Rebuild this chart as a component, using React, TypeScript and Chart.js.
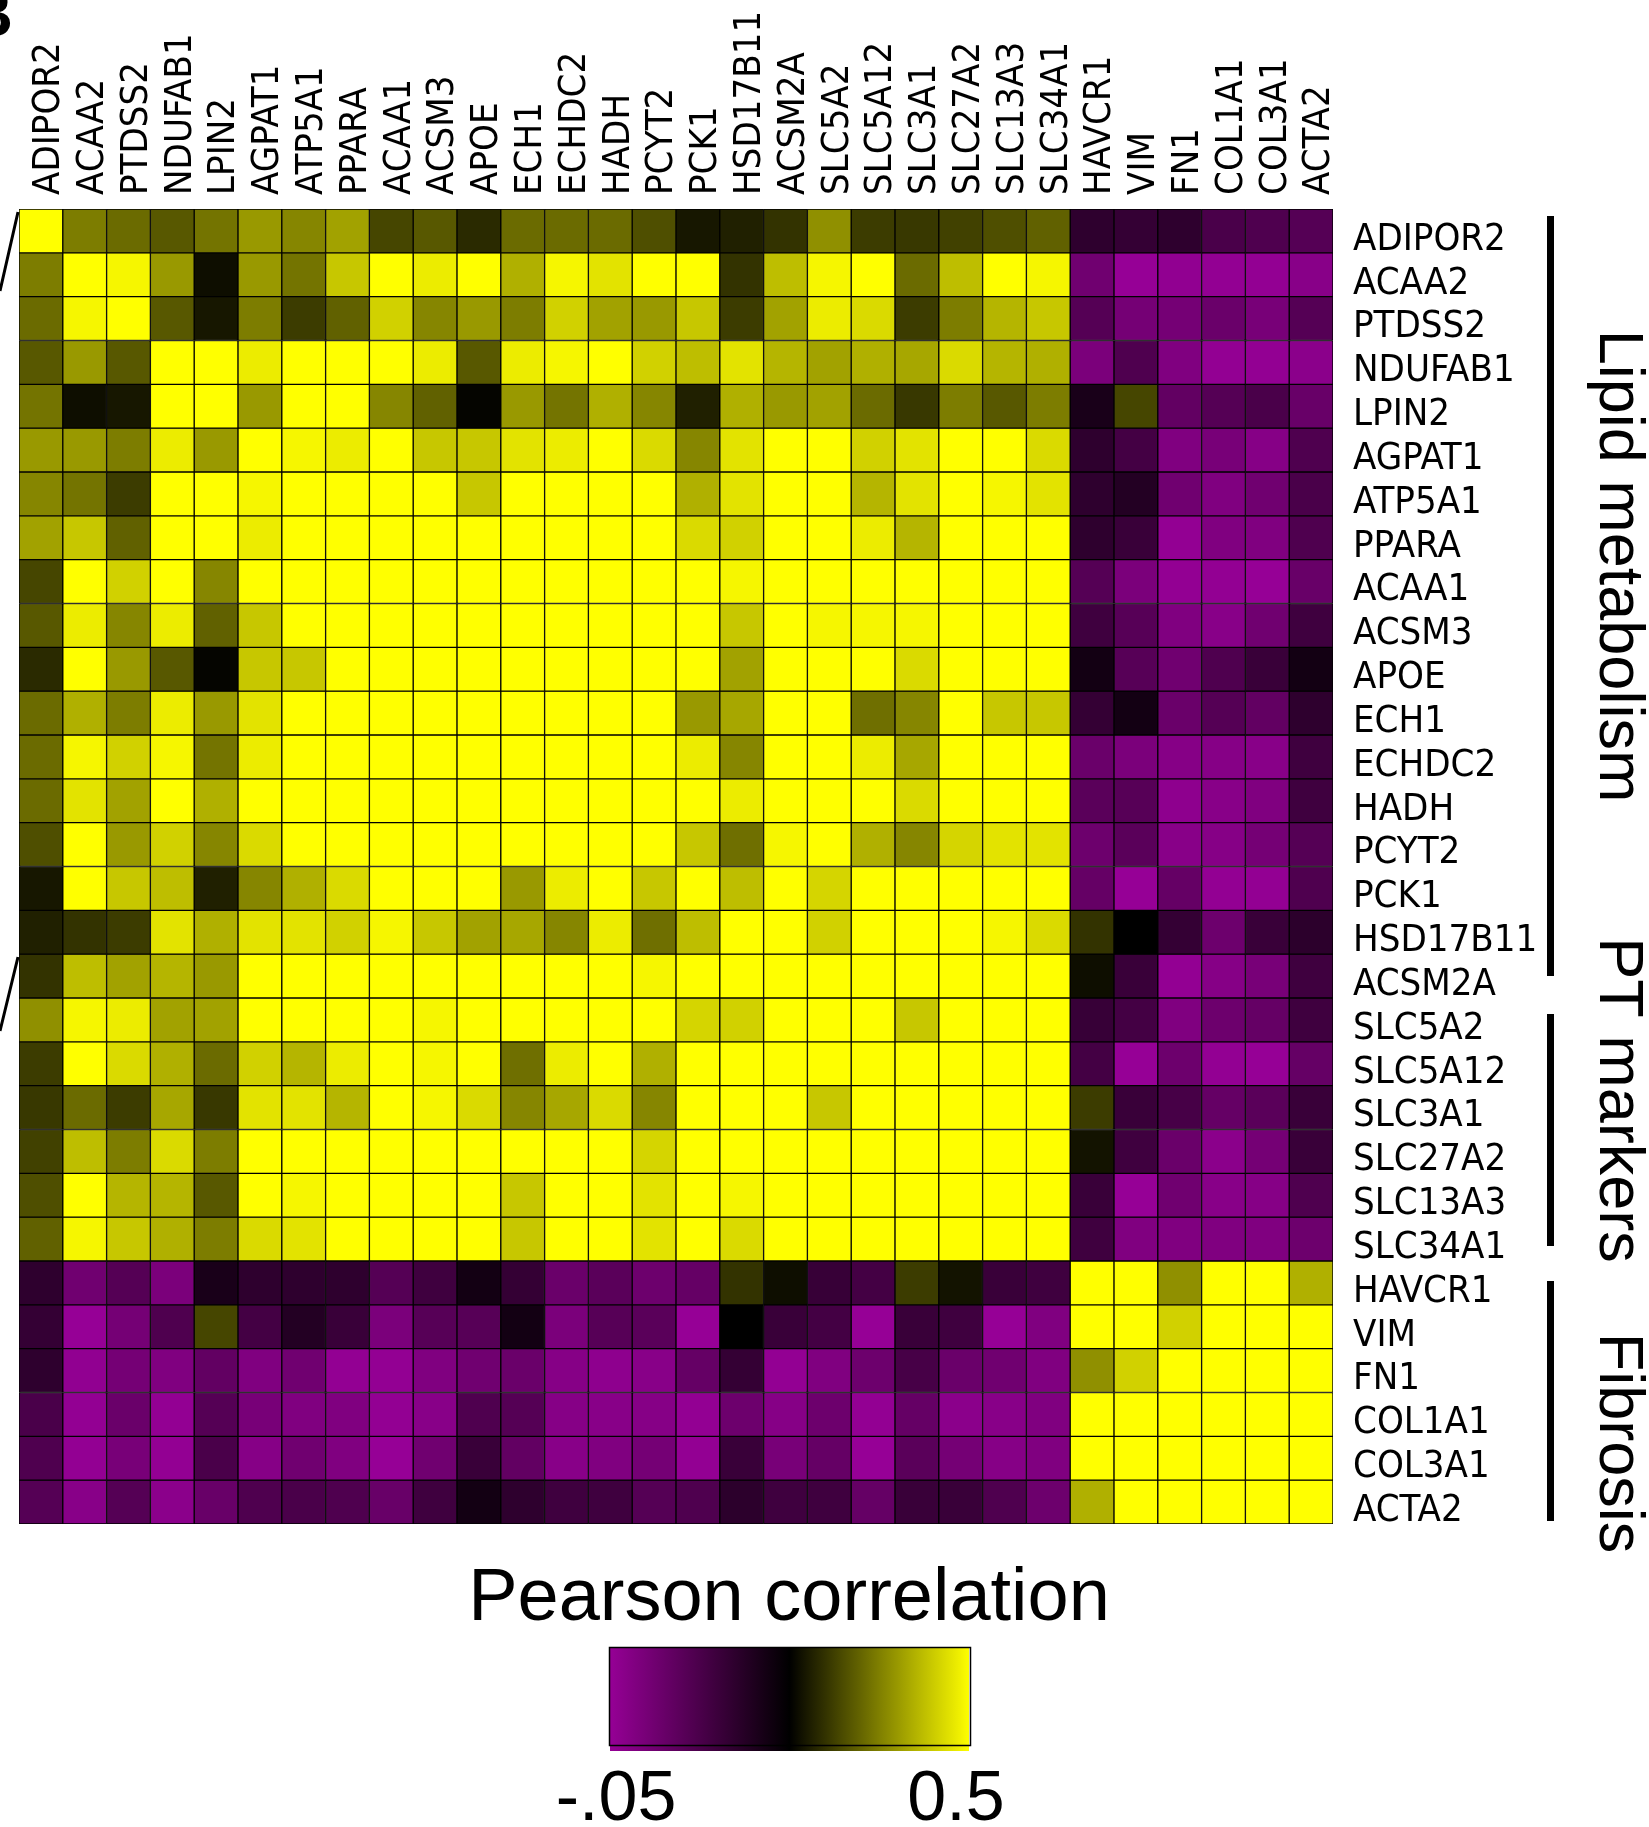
import React, { useEffect, useRef } from "react";
import { Chart, registerables } from "chart.js";

Chart.register(...registerables);

// ---------- data ----------
const genes = [
  "ADIPOR2", "ACAA2", "PTDSS2", "NDUFAB1", "LPIN2", "AGPAT1", "ATP5A1", "PPARA",
  "ACAA1", "ACSM3", "APOE", "ECH1", "ECHDC2", "HADH", "PCYT2", "PCK1", "HSD17B11",
  "ACSM2A", "SLC5A2", "SLC5A12", "SLC3A1", "SLC27A2", "SLC13A3", "SLC34A1",
  "HAVCR1", "VIM", "FN1", "COL1A1", "COL3A1", "ACTA2",
];

// Upper triangle of the (symmetric) Pearson correlation matrix, row i holds columns i..29
const corrUpper: number[][] = [
  [1.0, 0.36, 0.34, 0.32, 0.35, 0.39, 0.37, 0.4, 0.3, 0.32, 0.27, 0.34, 0.34, 0.34, 0.31, 0.25, 0.26, 0.28, 0.38, 0.29, 0.285, 0.295, 0.31, 0.33, 0.14, 0.13, 0.14, 0.09, 0.08, 0.07],
  [1.0, 0.49, 0.39, 0.24, 0.39, 0.35, 0.44, 0.5, 0.48, 0.5, 0.415, 0.49, 0.47, 0.5, 0.5, 0.28, 0.43, 0.49, 0.5, 0.34, 0.43, 0.5, 0.49, 0.02, -0.05, -0.04, -0.045, -0.045, -0.025],
  [1.0, 0.32, 0.25, 0.36, 0.29, 0.33, 0.45, 0.37, 0.39, 0.36, 0.45, 0.4, 0.39, 0.44, 0.29, 0.4, 0.48, 0.46, 0.29, 0.36, 0.42, 0.44, 0.07, 0.01, 0.01, 0.03, 0.005, 0.07],
  [1.0, 0.5, 0.48, 0.5, 0.5, 0.5, 0.48, 0.32, 0.48, 0.49, 0.5, 0.45, 0.43, 0.47, 0.42, 0.4, 0.415, 0.405, 0.46, 0.42, 0.415, 0.0, 0.08, -0.01, -0.045, -0.045, -0.03],
  [1.0, 0.39, 0.5, 0.5, 0.37, 0.33, 0.23, 0.39, 0.35, 0.415, 0.37, 0.26, 0.415, 0.39, 0.4, 0.34, 0.285, 0.36, 0.32, 0.36, 0.18, 0.3, 0.045, 0.07, 0.09, 0.035],
  [1.0, 0.49, 0.48, 0.5, 0.44, 0.44, 0.47, 0.48, 0.5, 0.46, 0.37, 0.47, 0.5, 0.5, 0.45, 0.47, 0.5, 0.5, 0.46, 0.14, 0.1, -0.01, 0.005, -0.02, 0.08],
  [1.0, 0.5, 0.5, 0.5, 0.44, 0.5, 0.5, 0.5, 0.5, 0.415, 0.47, 0.5, 0.5, 0.42, 0.47, 0.5, 0.49, 0.47, 0.14, 0.16, 0.02, -0.01, 0.02, 0.09],
  [1.0, 0.5, 0.5, 0.5, 0.5, 0.5, 0.5, 0.5, 0.46, 0.45, 0.5, 0.5, 0.48, 0.42, 0.5, 0.5, 0.5, 0.14, 0.12, -0.045, -0.01, -0.01, 0.08],
  [1.0, 0.5, 0.5, 0.5, 0.5, 0.5, 0.5, 0.5, 0.49, 0.5, 0.5, 0.5, 0.5, 0.5, 0.5, 0.5, 0.07, 0.0, -0.045, -0.045, -0.05, 0.035],
  [1.0, 0.5, 0.5, 0.5, 0.5, 0.5, 0.5, 0.44, 0.5, 0.49, 0.49, 0.49, 0.5, 0.5, 0.5, 0.11, 0.065, -0.01, -0.025, 0.02, 0.11],
  [1.0, 0.5, 0.5, 0.5, 0.5, 0.5, 0.4, 0.5, 0.5, 0.5, 0.46, 0.5, 0.5, 0.5, 0.19, 0.065, 0.02, 0.08, 0.12, 0.19],
  [1.0, 0.5, 0.5, 0.5, 0.39, 0.405, 0.5, 0.5, 0.345, 0.37, 0.5, 0.44, 0.44, 0.13, 0.19, 0.03, 0.07, 0.045, 0.14],
  [1.0, 0.5, 0.5, 0.48, 0.37, 0.5, 0.5, 0.48, 0.405, 0.5, 0.5, 0.5, 0.03, 0.0, -0.02, -0.02, -0.025, 0.11],
  [1.0, 0.5, 0.5, 0.48, 0.5, 0.5, 0.5, 0.46, 0.5, 0.5, 0.5, 0.06, 0.065, -0.035, -0.025, -0.01, 0.11],
  [1.0, 0.44, 0.345, 0.49, 0.5, 0.415, 0.37, 0.455, 0.47, 0.47, 0.025, 0.06, -0.025, -0.02, 0.01, 0.07],
  [1.0, 0.43, 0.5, 0.455, 0.5, 0.5, 0.5, 0.5, 0.5, 0.04, -0.05, 0.04, -0.045, -0.045, 0.08],
  [1.0, 0.5, 0.45, 0.5, 0.5, 0.5, 0.49, 0.46, 0.28, 0.225, 0.13, 0.025, 0.12, 0.145],
  [1.0, 0.5, 0.5, 0.5, 0.5, 0.5, 0.5, 0.24, 0.12, -0.045, -0.02, 0.005, 0.11],
  [1.0, 0.5, 0.44, 0.5, 0.5, 0.5, 0.125, 0.1, -0.01, 0.025, 0.04, 0.11],
  [1.0, 0.5, 0.5, 0.5, 0.5, 0.1, -0.05, 0.025, -0.045, -0.05, 0.04],
  [1.0, 0.5, 0.5, 0.5, 0.29, 0.12, 0.095, 0.04, 0.06, 0.12],
  [1.0, 0.5, 0.5, 0.245, 0.11, 0.03, -0.03, 0.01, 0.12],
  [1.0, 0.5, 0.12, -0.05, 0.02, -0.025, -0.02, 0.08],
  [1.0, 0.11, -0.01, -0.01, -0.01, -0.01, 0.025],
  [1.0, 0.5, 0.38, 0.5, 0.5, 0.415],
  [1.0, 0.45, 0.5, 0.5, 0.5],
  [1.0, 0.5, 0.5, 0.5],
  [1.0, 0.5, 0.5],
  [1.0, 0.5],
  [1.0],
];

const groupNames = ["Lipid metabolism", "PT markers", "Fibrosis"];
const groupFirstRow = [0, 18, 24];
const groupLastRow = [17, 23, 29];

const colorbarTitle = "Pearson correlation";
const colorbarTickLabels = ["-.05", "0.5"];
const VMIN = -0.05;
const VMAX = 0.5;
const VMID = (VMIN + VMAX) / 2;

// ---------- helpers ----------
function colorFor(v: number): string {
  if (v >= VMID) {
    const t = Math.min(1, (v - VMID) / (VMAX - VMID));
    const c = Math.round(255 * t);
    return `rgb(${c},${c},0)`;
  }
  const t = Math.min(1, (VMID - v) / (VMID - VMIN));
  const c = Math.round(150 * t);
  return `rgb(${c},0,${c})`;
}

const matrix: number[][] = genes.map((_, r) =>
  genes.map((_, c) => (r <= c ? corrUpper[r][c - r] : corrUpper[c][r - c]))
);

const NARROW =
  "'Liberation Sans Narrow', 'DejaVu Sans Condensed', sans-serif";
const SANS = "'Liberation Sans', Arial, Helvetica, sans-serif";
const TICK_SIZE = 38;

const decorPlugin = {
  id: "decor",
  afterDraw(chart: any) {
    const ctx: CanvasRenderingContext2D = chart.ctx;
    const ys = chart.scales.y;
    ctx.save();

    // group brackets
    const insetTop = [7, 16, 20];
    const insetBottom = [22, 15, 3];
    ctx.strokeStyle = "#000";
    ctx.lineWidth = 7;
    ctx.lineCap = "butt";
    for (let g = 0; g < groupNames.length; g++) {
      const y0 = ys.getPixelForValue(groupFirstRow[g]) + insetTop[g];
      const y1 = ys.getPixelForValue(groupLastRow[g] + 1) - insetBottom[g];
      ctx.beginPath();
      ctx.moveTo(1550.5, y0);
      ctx.lineTo(1550.5, y1);
      ctx.stroke();
    }

    // group labels (rotated, reading downward)
    const labelCenters = [566, 1100, 1443];
    ctx.fillStyle = "#000";
    ctx.font = `63px ${SANS}`;
    ctx.textAlign = "center";
    ctx.textBaseline = "alphabetic";
    for (let g = 0; g < groupNames.length; g++) {
      ctx.save();
      ctx.translate(1600, labelCenters[g]);
      ctx.rotate(Math.PI / 2);
      ctx.fillText(groupNames[g], 0, 0);
      ctx.restore();
    }

    // colour bar
    const bx0 = 609, bx1 = 970, by0 = 1647, by1 = 1745;
    const grad = ctx.createLinearGradient(bx0, 0, bx1, 0);
    for (let i = 0; i <= 20; i++) {
      const t = i / 20;
      grad.addColorStop(t, colorFor(VMIN + t * (VMAX - VMIN)));
    }
    ctx.fillStyle = grad;
    ctx.fillRect(bx0 + 1, by0 + 1, bx1 - bx0 - 2, by1 - by0 + 5);
    ctx.strokeStyle = "#000";
    ctx.lineWidth = 1.5;
    ctx.strokeRect(bx0 + 0.5, by0 + 0.5, bx1 - bx0, by1 - by0);

    ctx.fillStyle = "#000";
    ctx.font = `74px ${SANS}`;
    ctx.textAlign = "center";
    ctx.fillText(colorbarTitle, 789, 1620);

    ctx.font = `70px ${SANS}`;
    ctx.fillText(colorbarTickLabels[0], 616, 1820);
    ctx.fillText(colorbarTickLabels[1], 956, 1820);

    // fragments of neighbouring panel
    ctx.strokeStyle = "#000";
    ctx.lineWidth = 3;
    ctx.beginPath();
    ctx.moveTo(0, 291);
    ctx.lineTo(18, 212);
    ctx.moveTo(0, 1031);
    ctx.lineTo(18, 957);
    ctx.stroke();
    ctx.font = `bold 64px ${SANS}`;
    ctx.textAlign = "right";
    ctx.fillText("B", 13, 36);

    ctx.restore();
  },
};

export default function App() {
  const ref = useRef<HTMLCanvasElement | null>(null);

  useEffect(() => {
    if (!ref.current) return;
    const datasets = genes.map((g, r) => ({
      label: g,
      data: genes.map(() => [r, r + 1]),
      backgroundColor: matrix[r].map(colorFor),
      borderColor: "#000",
      borderWidth: 1,
      borderSkipped: false,
      barPercentage: 1,
      categoryPercentage: 1,
      grouped: false,
    }));

    const chart = new Chart(ref.current, {
      type: "bar",
      data: { labels: genes, datasets: datasets as any },
      options: {
        animation: false,
        responsive: false,
        devicePixelRatio: 1,
        layout: { padding: { left: 19, top: 0, right: 0, bottom: 303 } },
        plugins: {
          legend: { display: false },
          tooltip: { enabled: false },
        },
        scales: {
          x: {
            type: "category",
            position: "top",
            offset: true,
            grid: { display: false, drawTicks: false },
            border: { display: false },
            ticks: {
              autoSkip: false,
              minRotation: 90,
              maxRotation: 90,
              padding: 14,
              labelOffset: 54,
              color: "#000",
              font: { family: NARROW, size: TICK_SIZE },
            },
            afterFit: (s: any) => {
              s.height = 209;
              s.paddingLeft = 0;
              s.paddingRight = 0;
            },
          },
          y: {
            type: "linear",
            position: "right",
            min: 0,
            max: 30,
            reverse: true,
            grid: { display: false, drawTicks: false },
            border: { display: false },
            afterBuildTicks: (s: any) => {
              s.ticks = genes.map((_, i) => ({ value: i + 0.5 }));
            },
            ticks: {
              autoSkip: false,
              padding: 20,
              labelOffset: 9,
              color: "#000",
              font: { family: NARROW, size: TICK_SIZE },
              callback: (v: any) => genes[Math.floor(Number(v))],
            },
            afterFit: (s: any) => {
              s.width = 316;
              s.paddingTop = 0;
              s.paddingBottom = 0;
            },
          },
        },
      },
      plugins: [decorPlugin],
    });
    return () => chart.destroy();
  }, []);

  return (
    <div style={{ position: "absolute", left: 0, top: 0, width: 1649, height: 1827, background: "#fff" }}>
      <canvas ref={ref} width={1649} height={1827} />
    </div>
  );
}
